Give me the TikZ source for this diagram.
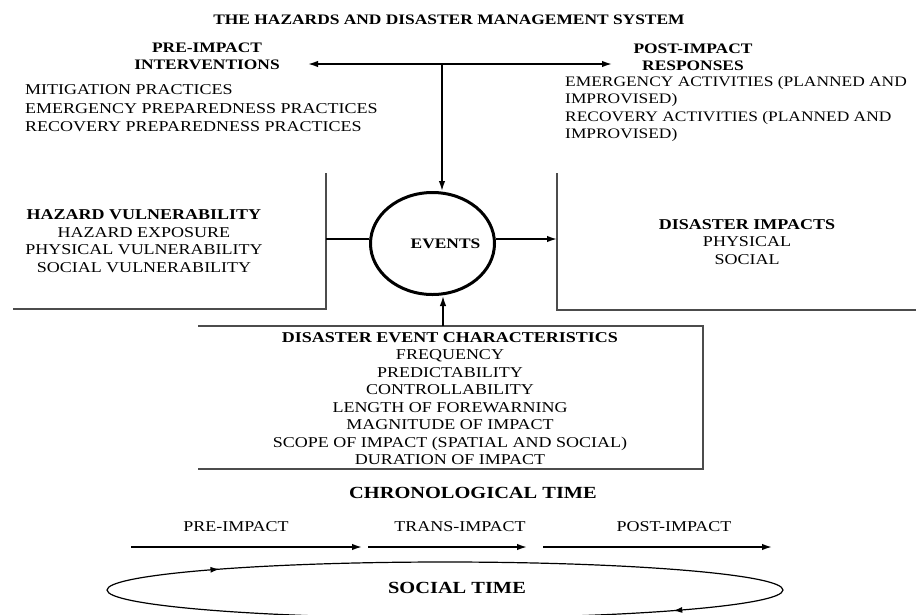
\documentclass[tikz,border=0pt]{standalone}
\usepackage{fontspec}
\setmainfont{Liberation Serif}[FakeStretch=1.2]
\usetikzlibrary{arrows.meta,shapes.geometric,decorations.markings}

\begin{document}
\begin{tikzpicture}[x=1pt,y=-1pt,
  lbl/.style={inner sep=0pt,align=center,font=\fontsize{15}{17.5}\selectfont},
  hd/.style={lbl,font=\fontsize{14.5}{17.5}\selectfont\bfseries},
  big/.style={inner sep=0pt,font=\fontsize{17}{20}\selectfont\bfseries},
  wall/.style={line width=1.3pt,draw=black!70},
  arr/.style={line width=1.6pt,-{Latex[length=10pt,width=6.5pt]}},
  evt/.style={ellipse,draw,line width=3pt,minimum width=124pt,minimum height=102pt,inner sep=0pt,
              font=\fontsize{14.5}{17.5}\selectfont\bfseries}]
  \useasboundingbox (0,0) rectangle (916,614);

  % Define nodes
  \node[hd]                                 (title)     at (449,20)      {THE HAZARDS AND DISASTER MANAGEMENT SYSTEM};
  \node[hd]                                 (pre)       at (207,56.5)    {PRE-IMPACT\\INTERVENTIONS};
  \node[lbl, anchor=west, align=left,
        font=\fontsize{15}{18.5}\selectfont] (preitems) at (25,108.5)    {MITIGATION PRACTICES\\EMERGENCY PREPAREDNESS PRACTICES\\RECOVERY PREPAREDNESS PRACTICES};
  \node[hd]                                 (post)      at (693,57.5)    {POST-IMPACT\\RESPONSES};
  \node[lbl, anchor=west, align=left,
        font=\fontsize{14.5}{17.3}\selectfont] (postitems) at (565,109)  {EMERGENCY ACTIVITIES (PLANNED AND\\IMPROVISED)\\RECOVERY ACTIVITIES (PLANNED AND\\IMPROVISED)};
  \node[evt]                                (events)    at (432.5,243.5) {\makebox[0pt][c]{\hspace*{26pt}EVENTS}};
  \node[lbl]                                (hazard)    at (144,241)     {\textbf{HAZARD VULNERABILITY}\\HAZARD EXPOSURE\\PHYSICAL VULNERABILITY\\SOCIAL VULNERABILITY};
  \node[lbl]                                (impacts)   at (747,242)     {\textbf{DISASTER IMPACTS}\\PHYSICAL\\SOCIAL};
  \node[lbl]                                (chars)     at (450,398.5)   {\textbf{DISASTER EVENT CHARACTERISTICS}\\FREQUENCY\\PREDICTABILITY\\CONTROLLABILITY\\LENGTH OF FOREWARNING\\MAGNITUDE OF IMPACT\\SCOPE OF IMPACT (SPATIAL AND SOCIAL)\\DURATION OF IMPACT};
  \node[big]                                (chrono)    at (473,493)     {CHRONOLOGICAL TIME};
  \node[lbl]                                (tpre)      at (236,527)     {PRE-IMPACT};
  \node[lbl]                                (ttrans)    at (460,527)     {TRANS-IMPACT};
  \node[lbl]                                (tpost)     at (674,527)     {POST-IMPACT};
  \node[big]                                (social)    at (457,588)     {SOCIAL TIME};

  % Corner points
  \coordinate (junction) at (442,64);
  \coordinate (preend)   at (308,64);
  \coordinate (postend)  at (612,64);
  \coordinate (hvtop)    at (326,173);
  \coordinate (hvjoin)   at (326,239);
  \coordinate (hvcorner) at (326,309);
  \coordinate (hvend)    at (13,309);
  \coordinate (ditop)    at (557,173);
  \coordinate (dijoin)   at (557,239);
  \coordinate (dicorner) at (557,310);
  \coordinate (diend)    at (916,310);
  \coordinate (ctopl)    at (198,326);
  \coordinate (cjoin)    at (443,326);
  \coordinate (ctopr)    at (703,326);
  \coordinate (cbotr)    at (703,469);
  \coordinate (cbotl)    at (198,469);
  \coordinate (t0)       at (131,547);
  \coordinate (t1)       at (362,547);
  \coordinate (t2)       at (368,547);
  \coordinate (t3)       at (527,547);
  \coordinate (t4)       at (543,547);
  \coordinate (t5)       at (772,547);

  % Connect the nodes
  \draw[arr, {Latex[length=10pt,width=6.5pt]}-{Latex[length=10pt,width=6.5pt]}] (preend) -- (postend);
  \draw[arr]  (junction) -- (junction |- events.north);
  \draw[wall] (hvtop) -- (hvcorner) -- (hvend);
  \draw[line width=1.6pt] (hvjoin) -- (hvjoin -| events.west);
  \draw[wall] (ditop) -- (dicorner) -- (diend);
  \draw[arr]  (dijoin -| events.east) -- (dijoin);
  \draw[wall] (ctopl) -- (ctopr) -- (cbotr) -- (cbotl);
  \draw[arr]  (cjoin) -- (cjoin |- events.south);
  \draw[arr]  (t0) -- (t1);
  \draw[arr]  (t2) -- (t3);
  \draw[arr]  (t4) -- (t5);
  \draw[line width=1.2pt, postaction={decorate},
        decoration={markings,
          mark=at position 0.083 with {\arrow{Latex[length=9pt,width=6pt]}},
          mark=at position 0.585 with {\arrow{Latex[length=9pt,width=6pt]}}}]
        (445,590) ellipse [x radius=338, y radius=28];
\end{tikzpicture}
\end{document}
